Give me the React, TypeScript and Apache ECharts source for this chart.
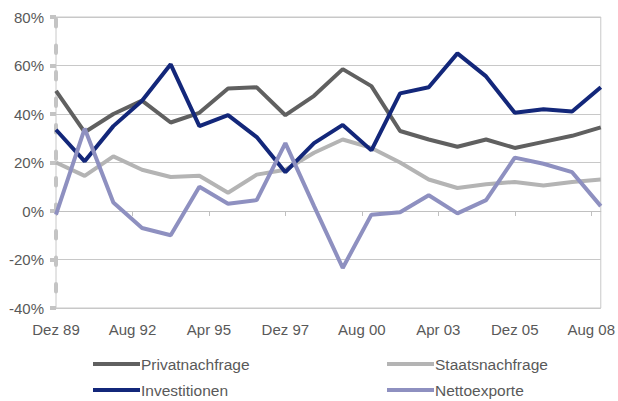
import React, { useEffect, useRef } from "react";
import * as echarts from "echarts";

// December observations, one per year
const years = [1989, 1990, 1991, 1992, 1993, 1994, 1995, 1996, 1997, 1998, 1999, 2000, 2001, 2002, 2003, 2004, 2005, 2006, 2007, 2008];
const privatnachfrage = [49.5, 32.5, 40, 45.5, 36.5, 40.5, 50.5, 51, 39.5, 47.5, 58.5, 51.5, 33, 29.5, 26.5, 29.5, 26, 28.5, 31, 34.5];
const staatsnachfrage = [20, 14.5, 22.5, 17, 14, 14.5, 7.5, 15, 17, 24, 29.5, 26, 20, 13, 9.5, 11, 12, 10.5, 12, 13];
const investitionen = [33.5, 20.5, 35, 45.5, 60.5, 35, 39.5, 30.5, 16, 28, 35.5, 25, 48.5, 51, 65, 55.5, 40.5, 42, 41, 51];
const nettoexporte = [-1.5, 34, 3.5, -7, -10, 10, 3, 4.5, 28, 2, -23.5, -1.5, -0.5, 6.5, -1, 4.5, 22, 19.5, 16, 2];

const monthNames = ["Jan", "Feb", "Mär", "Apr", "Mai", "Jun", "Jul", "Aug", "Sep", "Okt", "Nov", "Dez"];
const startYear = 1989;
const startMonth = 11; // December

const toMonths = (y: number) => (y - startYear) * 12;

const series = [
  { name: "Privatnachfrage", data: privatnachfrage, color: "#606060" },
  { name: "Staatsnachfrage", data: staatsnachfrage, color: "#b4b4b4" },
  { name: "Investitionen", data: investitionen, color: "#13277a" },
  { name: "Nettoexporte", data: nettoexporte, color: "#8e90c0" },
];

// legend layout: [name, left, top]
const legendSlots: [string, number, number][] = [
  ["Privatnachfrage", 93, 356],
  ["Staatsnachfrage", 387, 356],
  ["Investitionen", 93, 382],
  ["Nettoexporte", 387, 382],
];

const textColor = "#595959";
const font = "Liberation Sans, Arial, sans-serif";

export default function App() {
  const ref = useRef<HTMLDivElement>(null);
  useEffect(() => {
    if (!ref.current) return;
    const chart = echarts.init(ref.current, null, { renderer: "svg" });
    chart.setOption({
      animation: false,
      grid: {
        left: 56,
        right: 16,
        top: 17,
        bottom: 93,
        show: true,
        borderColor: "#c8c8c8",
        borderWidth: 1,
      },
      xAxis: {
        type: "value",
        min: 0,
        max: 228,
        interval: 32,
        axisLine: { show: true, lineStyle: { color: "#c0c0c0", width: 1 } },
        axisTick: { show: true, length: 5, lineStyle: { color: "#c0c0c0" } },
        splitLine: { show: false },
        axisLabel: {
          color: textColor,
          fontFamily: font,
          fontSize: 15,
          margin: 14,
          showMaxLabel: false,
          formatter: (v: number) => {
            if (v % 32 !== 0) return "";
            const total = startMonth + v;
            const m = total % 12;
            const y = startYear + Math.floor(total / 12);
            return monthNames[m] + " " + String(y % 100).padStart(2, "0");
          },
        },
      },
      yAxis: {
        type: "value",
        min: -40,
        max: 80,
        interval: 20,
        axisLine: {
          show: true,
          lineStyle: { color: "#c4c4c4", width: 4, type: [7.5, 19], dashOffset: 9.5 },
        },
        axisTick: { show: true, length: 6, lineStyle: { color: "#c4c4c4", width: 4 } },
        splitLine: { show: true, lineStyle: { color: "#c8c8c8", width: 1 } },
        axisLabel: {
          color: textColor,
          fontFamily: font,
          fontSize: 15,
          margin: 12,
          formatter: (v: number) => v + "%",
        },
      },
      legend: legendSlots.map(([name, left, top]) => ({
        data: [name],
        left,
        top,
        itemWidth: 47,
        itemHeight: 4,
        icon: "rect",
        padding: 0,
        textStyle: { color: textColor, fontFamily: font, fontSize: 15.5, padding: [0, 0, 0, -4] },
      })),
      series: series.map((s) => ({
        name: s.name,
        type: "line",
        showSymbol: false,
        symbol: "none",
        color: s.color,
        lineStyle: { color: s.color, width: 4 },
        data: years.map((y, i) => [toMonths(y), s.data[i]]),
      })),
    });
    return () => chart.dispose();
  }, []);
  return <div ref={ref} style={{ position: "absolute", left: 0, top: 0, width: 618, height: 401 }} />;
}
